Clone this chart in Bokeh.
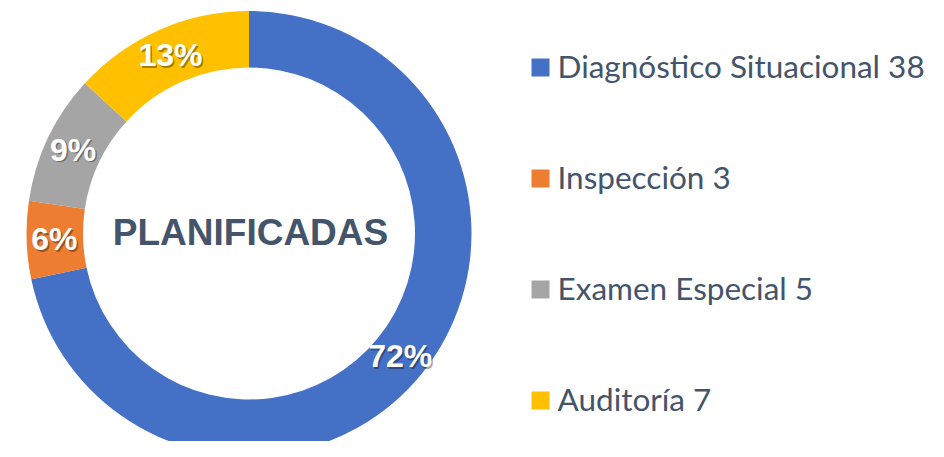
import math
from bokeh.plotting import figure
from bokeh.models import Range1d, ColumnDataSource
from bokeh.core.properties import value
from bokeh.embed import file_html
from bokeh.resources import INLINE

# ---- data ----
categories = ["Diagnóstico Situacional", "Inspección", "Examen Especial", "Auditoría"]
counts = [38, 3, 5, 7]
colors = ["#4471C6", "#ED7D31", "#A5A5A5", "#FFC000"]
center_title = "PLANIFICADAS"

W, H = 928, 441
p = figure(width=W, height=H, output_backend="svg", toolbar_location=None,
           x_range=Range1d(0, W), y_range=Range1d(0, H), min_border=0)
p.axis.visible = False
p.grid.visible = False
p.outline_line_color = None
p.background_fill_color = "white"
p.border_fill_color = "white"

cx, cy = 248.5, H - 233.0
r_in, r_out = 166.0, 222.5

total = sum(counts)
starts, ends, mids, pct = [], [], [], []
cum = 0.0
for c in counts:
    a0 = math.pi / 2 - 2 * math.pi * cum / total
    cum += c
    a1 = math.pi / 2 - 2 * math.pi * cum / total
    starts.append(a0)
    ends.append(a1)
    mids.append((a0 + a1) / 2)
    pct.append(f"{round(100 * c / total)}%")

src = ColumnDataSource(dict(start=starts, end=ends, color=colors))
p.annular_wedge(x=cx, y=cy, inner_radius=r_in, outer_radius=r_out,
                start_angle="start", end_angle="end", direction="clock",
                fill_color="color", line_color=None, source=src)

r_lab = (r_in + r_out) / 2 + 0.5
lx = [cx + r_lab * math.cos(m) for m in mids]
ly = [cy + r_lab * math.sin(m) for m in mids]
lab_src = ColumnDataSource(dict(x=lx, y=ly, t=pct,
                                xs=[v + 1.5 for v in lx], ys=[v - 1.5 for v in ly]))
p.text(x="xs", y="ys", text="t", source=lab_src, text_color="black", text_alpha=0.35,
       text_font=value("Liberation Sans"), text_font_style="bold", text_font_size="32px",
       text_align="center", text_baseline="middle")
p.text(x="x", y="y", text="t", source=lab_src, text_color="white",
       text_font=value("Liberation Sans"), text_font_style="bold", text_font_size="32px",
       text_align="center", text_baseline="middle")

p.text(x=[cx + 1.5], y=[cy + 1], text=[center_title], text_color="#44546A",
       text_font=value("Liberation Sans"), text_font_style="bold", text_font_size="37px",
       text_align="center", text_baseline="middle")

# legend
leg_x = 540.0
leg_top = H - 76.0
leg_gap = 111.0
base_y = [leg_top - i * leg_gap for i in range(len(categories))]
labels = [f"{c} {n}" for c, n in zip(categories, counts)]
leg_src = ColumnDataSource(dict(x=[leg_x] * len(categories), y=[b + 9 for b in base_y],
                                tx=[leg_x + 17] * len(categories), ty=[b + 11 for b in base_y],
                                t=labels, color=colors))
p.rect(x="x", y="y", width=18, height=18, fill_color="color", line_color=None, source=leg_src)
p.text(x="tx", y="ty", text="t", source=leg_src, text_color="#44546A",
       text_font=value("Lato"), text_font_size="31.5px",
       text_align="left", text_baseline="alphabetic")

open("out.html", "w").write(file_html(p, INLINE))
